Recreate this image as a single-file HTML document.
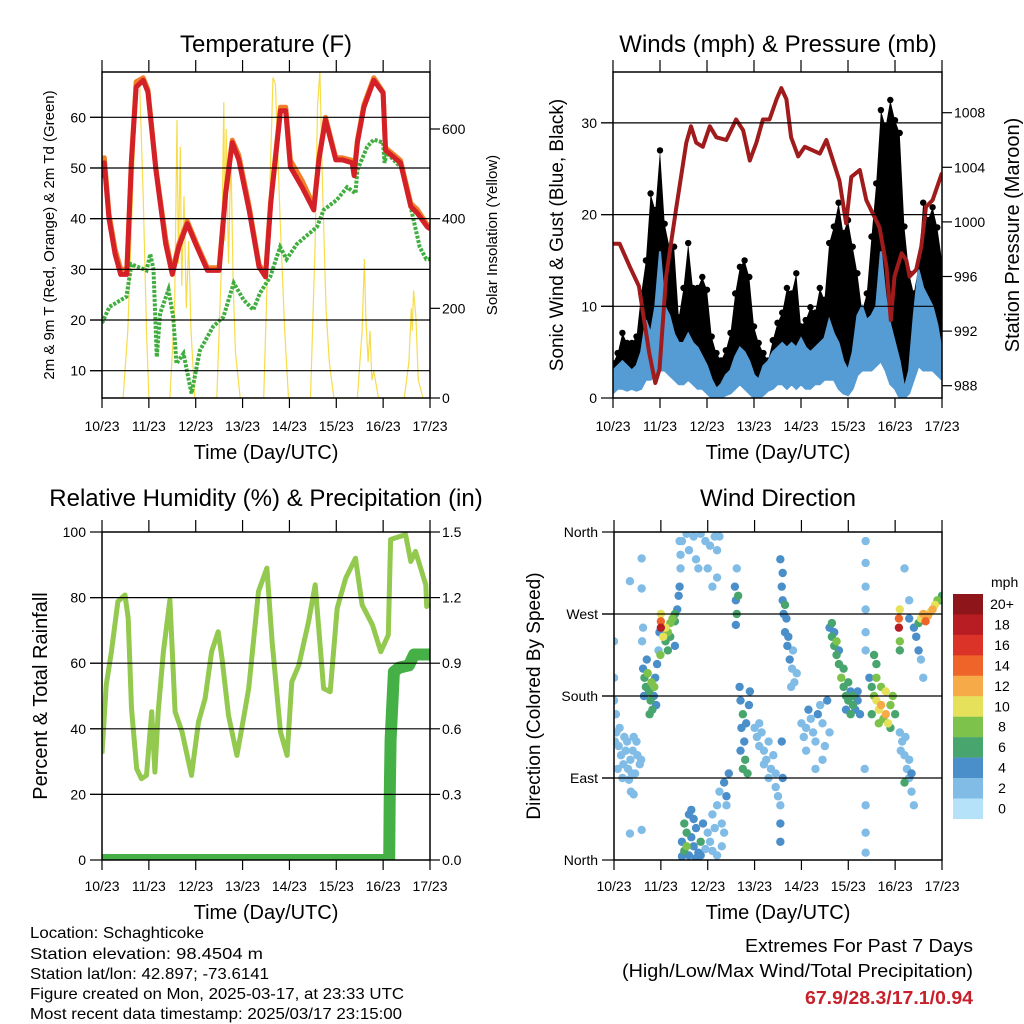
<!DOCTYPE html>
<html><head><meta charset="utf-8"><style>
html,body{margin:0;padding:0;background:#fff;}
svg{display:block;font-family:"Liberation Sans",Arial,sans-serif;}
</style></head><body>
<svg id="chart" width="1024" height="1024" viewBox="0 0 1024 1024" xmlns="http://www.w3.org/2000/svg">
<defs>
<clipPath id="c1"><rect x="102" y="72" width="328" height="326"/></clipPath>
<clipPath id="c2"><rect x="613" y="72" width="329" height="326"/></clipPath>
<clipPath id="c3"><rect x="102" y="532" width="328" height="328"/></clipPath>
<clipPath id="c4"><rect x="614" y="532" width="328" height="328"/></clipPath>
</defs>
<g id="layer"></g>
<text x="266" y="52" font-size="24" text-anchor="middle">Temperature (F)</text>
<text x="778" y="52" font-size="24" text-anchor="middle">Winds (mph) &amp; Pressure (mb)</text>
<text x="266" y="506" font-size="24" text-anchor="middle">Relative Humidity (%) &amp; Precipitation (in)</text>
<text x="778" y="506" font-size="24" text-anchor="middle">Wind Direction</text>
<text transform="translate(54,235) rotate(-90)" font-size="15" text-anchor="middle">2m &amp; 9m T (Red, Orange) &amp; 2m Td (Green)</text>
<text transform="translate(497,235) rotate(-90)" font-size="15" text-anchor="middle">Solar Insolation (Yellow)</text>
<text transform="translate(563,235) rotate(-90)" font-size="19" text-anchor="middle">Sonic Wind &amp; Gust (Blue, Black)</text>
<text transform="translate(1019,235) rotate(-90)" font-size="20" text-anchor="middle">Station Pressure (Maroon)</text>
<text transform="translate(47,696) rotate(-90)" font-size="20" text-anchor="middle">Percent &amp; Total Rainfall</text>
<text transform="translate(540,696) rotate(-90)" font-size="19" text-anchor="middle">Direction (Colored By Speed)</text>
<text x="266" y="459" font-size="20" text-anchor="middle">Time (Day/UTC)</text>
<text x="778" y="459" font-size="20" text-anchor="middle">Time (Day/UTC)</text>
<text x="266" y="919" font-size="20" text-anchor="middle">Time (Day/UTC)</text>
<text x="778" y="919" font-size="20" text-anchor="middle">Time (Day/UTC)</text>
<g font-size="16">
<text x="30" y="938" textLength="174" lengthAdjust="spacingAndGlyphs">Location: Schaghticoke</text>
<text x="30" y="959" textLength="233" lengthAdjust="spacingAndGlyphs">Station elevation: 98.4504 m</text>
<text x="30" y="979" textLength="239" lengthAdjust="spacingAndGlyphs">Station lat/lon: 42.897; -73.6141</text>
<text x="30" y="999" textLength="374" lengthAdjust="spacingAndGlyphs">Figure created on Mon, 2025-03-17, at 23:33 UTC</text>
<text x="30" y="1019" textLength="372" lengthAdjust="spacingAndGlyphs">Most recent data timestamp: 2025/03/17 23:15:00</text>
</g>
<g>
<text x="745" y="952" font-size="18" textLength="228" lengthAdjust="spacingAndGlyphs">Extremes For Past 7 Days</text>
<text x="622" y="977" font-size="18" textLength="351" lengthAdjust="spacingAndGlyphs">(High/Low/Max Wind/Total Precipitation)</text>
<text x="805" y="1004" font-size="18" font-weight="bold" fill="#c8202a" textLength="168" lengthAdjust="spacingAndGlyphs">67.9/28.3/17.1/0.94</text>
</g>
<text x="991" y="587" font-size="14">mph</text>
</svg>
<script>
// ---------- data ----------
const dayLabels = ["10/23","11/23","12/23","13/23","14/23","15/23","16/23","17/23"];
const tempTicks = [10,20,30,40,50,60];
const solarTicks = [0,200,400,600];
const windTicks = [0,10,20,30];
const presTicks = [988,992,996,1000,1004,1008];
const rhTicks = [0,20,40,60,80,100];
const precTicks = [0.0,0.3,0.6,0.9,1.2,1.5];
const precLabels = ["0.0","0.3","0.6","0.9","1.2","1.5"];
const dirTicks = [0,90,180,270,360];
const dirLabels = ["North","East","South","West","North"];
const speedLabels = ["0","2","4","6","8","10","12","14","16","18","20+"];

const tempT = [0,0.05,0.15,0.28,0.4,0.53,0.63,0.73,0.88,0.98,1.15,1.36,1.5,1.64,1.82,2.0,2.25,2.5,2.64,2.78,2.92,3.14,3.35,3.49,3.6,3.81,3.92,4.02,4.27,4.52,4.63,4.77,4.99,5.13,5.34,5.38,5.45,5.59,5.8,6.0,6.05,6.37,6.59,6.73,6.94,7.0];
const tempRed = [48,51,40,33,29,29,51.5,66,67.3,65,49.6,35,29,34.4,39,35,29.8,29.8,45,55,51.6,41.7,30.5,28.5,43,61.3,61.3,50.2,46.2,41.7,51.6,59.5,51.6,51.6,51,48.5,55,62,67.3,64.8,53.5,51,42.4,41.1,38.4,38];
const tempOrange = [50,52,41,34,30,30,52,67,67.8,65.5,50,36,29.5,35,39.5,35.5,30.3,30.3,45.5,55.5,52.5,42.5,31,29,43.5,62,62,51.5,47.5,42.5,52,60,52,52,51.5,49,55.5,62.5,67.8,65,54,51.5,43,41.8,38.8,38.5];
const dewT = [0,0.16,0.52,0.63,0.95,1.03,1.1,1.17,1.24,1.42,1.52,1.59,1.74,1.91,2.09,2.37,2.59,2.81,3.02,3.23,3.37,3.59,3.8,3.94,4.16,4.59,4.73,5.01,5.23,5.41,5.45,5.66,5.8,6.0,6.03,6.08,6.43,6.57,6.78,6.92,7.0];
const dewV = [19.4,22.6,24.6,31,29.8,33,30,12.7,21.3,26,20.6,11.4,13.4,5.5,14,18.7,20.6,27.3,24,22,25.3,28.5,34.4,32,35,38.4,41.7,43.7,46.2,45,49.6,54.2,55.6,55,51,53,49.6,43,34.4,32,32];
const solT = [0.45,0.55,0.65,0.75,0.8,0.88,0.95,1.0, 1.45,1.55,1.6,1.63,1.67,1.7,1.75,1.8,1.85,1.9,1.98, 2.45,2.55,2.6,2.62,2.65,2.7,2.75,2.8,2.85,2.95, 3.45,3.55,3.65,3.7,3.8,3.9,3.98, 4.45,4.55,4.6,4.65,4.7,4.78,4.85,4.95, 5.45,5.55,5.6,5.63,5.68,5.72,5.76,5.8,5.9, 6.45,6.55,6.6,6.62,6.65,6.7,6.75,6.85];
const solV = [0,150,450,700,710,450,150,0, 0,200,620,300,560,250,450,200,350,150,0, 0,300,660,350,600,300,550,250,100,0, 0,350,715,700,400,150,0, 0,350,650,730,500,200,80,0, 0,150,310,180,80,150,40,60,0, 0,80,200,150,240,180,40,0];

const presT = [0,0.14,0.36,0.55,0.77,0.9,0.99,1.13,1.34,1.56,1.66,1.77,1.91,2.06,2.2,2.41,2.62,2.77,2.91,3.05,3.19,3.33,3.48,3.58,3.69,3.79,3.94,4.08,4.4,4.54,4.68,4.82,4.96,5.07,5.25,5.39,5.53,5.67,5.82,5.91,5.99,6.14,6.24,6.31,6.45,6.56,6.66,6.8,7.0];
const presV = [998.4,998.4,996.7,995.3,990.4,988.2,989.2,996,1000.9,1005.8,1007,1005.8,1005.5,1007,1006.2,1006,1007.5,1006.7,1004.5,1005.8,1007.5,1007.5,1009,1009.8,1009,1006.2,1004.8,1005.5,1005,1006,1004.5,1003,999.9,1003.3,1003.8,1001.6,1000.6,999.6,996.7,992.8,996,997.7,997.2,996,996.5,998.2,1001.1,1001.6,1003.6];
// winds sampled every 0.1 day
const gustHi = [3.8,4.9,7.1,6,6,6.7,11.4,15,22.3,20.5,27,19,16.5,16.5,8.8,12,16.9,12,12,13.2,11.8,6.7,4.9,4.1,5.2,7.1,11.4,14.3,15,13.2,7.8,6,4.9,4.1,6.3,8.2,9.3,12,11.4,13.6,7.8,8.5,9.9,9.3,12,10.7,16.9,18.7,21.3,18,19.4,16.5,13.6,9.5,11.4,17.6,23.4,31.4,29.6,32.5,30.3,28.9,18.7,13.6,11.4,14.3,21.3,19.4,20.8,18.6,15];
const windHi = [3,3.5,4,3.5,3,3.5,5,8.5,7,10,16,10,9,7,6,6,7,6,5.5,4.5,3.5,2,1,1.5,2.5,3,4.5,5.5,5,4,2.5,2,3.5,4,5,5.5,6,5.5,6,5.5,6.5,5.5,5,5.5,6,6.5,8.5,7,6,4,3,5,9,10,8.5,9,10,16,11,8,6,4,1,3,9,14,12,11,10,8,5];
const windLo = [0.5,1,1,0.8,1,0.8,1,2,2,2.5,3,3,2.5,2,1.5,1.5,2,1.5,1,1,0.5,0,0,0,0.3,0.5,1,1.5,1,0.5,0,0,0.3,0.8,1,1.5,1.5,1,1.5,1,1.5,1,1,1.5,1.5,2,2,2,1,0.5,0.3,1,2.5,3,3,3,3.5,4,3,1.5,1,0,0,0.5,2,3.5,3,3,3,2.5,2];

const rhT = [0,0.09,0.2,0.34,0.49,0.56,0.63,0.74,0.84,0.95,1.06,1.13,1.2,1.31,1.45,1.56,1.71,1.91,2.06,2.2,2.34,2.48,2.56,2.7,2.88,3.02,3.13,3.34,3.52,3.63,3.81,3.95,4.05,4.2,4.41,4.55,4.73,4.87,5.02,5.2,5.41,5.55,5.77,5.95,6.11,6.16,6.48,6.59,6.69,6.91,6.93,7.0];
const rhV = [32.4,53.3,63.5,78.8,80.8,73.7,46.2,27.8,24.8,25.8,45.2,26.8,45.2,63.5,79.3,45.2,39,25.8,42.1,49.2,63.5,69.6,61.5,44.1,31.9,43.1,52.3,81.9,89,66.6,39,31.9,54.3,59.4,72.7,83.9,52.3,51.3,76.8,85.9,92,77.8,71.7,63.5,68.6,97.7,99.2,91,94.1,83.9,77.3,78.3];
const precT = [0,6.13,6.14,6.16,6.23,6.34,6.55,6.66,7.0];
const precV = [0,0,0.28,0.55,0.86,0.88,0.89,0.94,0.94];

// wind direction observations (time in days, direction deg, speed mph)
const wdT = [0.02,0.05,0.1,0.15,0.2,0.25,0.3,0.35,0.4,0.45,0.5,0.55,0.08,0.18,0.28,0.38,0.42,0.48,0.12,0.22,0.32,0.58,0.0,0.0,0.0,0.04,0.36,0.42,0.34,0.59,0.59,0.34,0.59,
 0.62,0.65,0.68,0.72,0.75,0.78,0.8,0.82,0.85,0.88,0.9,0.92,0.7,0.64,0.76,0.86,0.95,0.97,0.6,0.62,
 1.0,1.0,1.0,1.1,1.15,1.2,1.25,1.3,1.1,1.2,1.3,1.35,1.38,1.4,1.42,1.42,1.4,0.99,1.3,1.15,1.05,
 1.45,1.5,1.55,1.6,1.65,1.7,1.75,1.8,1.85,1.9,1.6,1.65,1.7,1.5,1.55,1.95,2.0,1.75,1.45,1.85,
 1.45,1.55,1.7,1.85,1.95,2.05,2.15,1.6,1.75,2.0,2.1,2.2,2.25,1.8,2.2,
 2.05,2.1,2.15,2.2,2.25,2.3,2.35,2.4,2.45,2.1,2.2,2.3,2.35,2.4,
 2.58,2.6,2.62,2.6,2.65,2.62,
 2.68,2.7,2.75,2.72,2.78,2.8,2.85,2.88,2.9,2.7,2.82,2.75,
 3.0,3.05,3.1,3.15,3.2,3.25,3.3,3.35,3.4,3.45,3.1,3.2,3.3,3.45,3.5,
 3.55,3.55,3.55,3.58,3.6,
 3.58,3.6,3.62,3.65,3.7,3.75,3.8,3.85,3.9,3.68,3.72,3.6,3.55,3.65,3.78,3.82,
 4.0,4.05,4.1,4.15,4.2,4.25,4.3,4.35,4.4,4.45,4.5,4.55,4.6,4.1,4.3,4.45,
 4.6,4.65,4.7,4.75,4.8,4.85,4.9,4.95,5.0,5.05,5.1,5.15,5.2,5.25,4.7,4.8,4.9,5.0,5.1,5.2,4.65,4.75,4.95,5.05,
 5.37,5.37,5.37,5.37,5.37,5.37,5.37,5.37,5.37,5.35,
 5.45,5.5,5.55,5.6,5.65,5.7,5.75,5.8,5.85,5.9,5.95,6.0,5.6,5.7,5.8,5.9,5.5,5.65,5.6,5.55,
 6.1,6.15,6.2,6.25,6.3,6.35,6.12,6.22,6.3,6.2,6.4,6.35,
 6.08,6.08,6.1,6.1,6.1,6.3,6.4,6.5,6.55,6.6,6.65,6.7,6.75,6.8,6.85,6.9,6.95,7.0,6.45,6.3,6.2,6.5,6.55,6.6];
const wdDir = [130,140,125,115,105,120,100,110,120,95,115,105,100,90,130,95,135,130,145,135,88,110,175,200,240,160,75,72,306,331,298,29,33,
 210,200,190,205,185,175,195,165,180,200,170,215,220,180,160,190,230,250,240,255,
 270,262,255,255,250,260,265,262,240,245,270,275,290,300,320,335,350,225,235,230,245,
 20,10,30,5,25,15,35,8,20,40,50,55,45,40,15,12,30,2,4,5,
 350,358,355,358,350,345,355,340,330,320,300,310,355,320,340,
 20,50,35,60,75,40,85,70,95,10,5,15,30,60,
 300,285,270,258,290,320,
 190,175,160,145,130,110,95,170,185,120,150,100,
 145,135,125,140,120,110,130,100,115,95,150,105,90,80,70,
 40,20,60,130,90,
 300,285,270,250,235,220,210,195,205,265,245,315,330,280,190,230,
 150,135,145,165,155,140,130,160,170,150,125,175,140,120,100,110,
 255,245,235,225,215,200,190,180,175,185,170,165,175,160,250,230,210,195,180,185,260,240,165,160,
 350,326,300,275,250,230,60,30,8,100,
 200,190,180,175,165,170,155,160,150,170,180,160,200,190,185,145,160,150,215,225,
 140,130,115,100,90,75,120,135,110,85,60,95,
 265,255,275,240,230,265,255,260,265,270,262,268,272,275,280,285,285,290,245,285,320,230,220,200];
const wdSpd = [1,1,2,1,2,1,2,1,2,1,2,1,1,1,2,2,1,2,1,1,1,2,1,1,1,1,1,1,1,1,1,2,1,
 4,5,6,7,6,5,7,6,4,3,4,4,3,4,6,7,2,3,2,2,
 10,14,18,10,8,7,8,6,6,5,5,4,4,3,2,2,2,8,3,5,9,
 4,5,6,4,3,4,3,4,5,4,4,3,3,6,7,2,2,4,3,4,
 2,2,2,2,1,1,1,2,2,1,1,1,1,1,2,
 1,1,1,2,2,1,3,3,4,1,1,1,1,2,
 3,4,5,3,6,2,
 4,4,5,4,4,5,6,4,4,3,4,6,
 2,2,2,2,2,1,2,2,2,2,1,2,2,1,2,
 3,3,2,3,3,
 4,4,3,4,4,3,2,2,2,4,4,3,3,6,2,2,
 2,2,2,3,2,2,2,3,2,2,2,3,2,2,1,1,
 4,5,6,5,6,7,6,5,6,4,5,4,3,4,3,4,6,5,6,4,6,7,4,5,
 1,2,2,2,2,1,1,2,1,1,
 3,6,8,10,9,11,8,12,10,8,7,6,7,8,9,6,5,7,6,5,
 2,2,2,2,1,1,2,1,2,6,1,3,
 14,18,10,8,6,3,4,6,10,12,14,12,10,11,9,8,6,5,4,2,1,3,2,2];
const speedColors = ['#b5e2f8','#80bce6','#4a8fc9','#48a56e','#7dc24b','#e6e15a','#f6ab48','#ef6429','#dc3328','#b81d23','#8e1519'];

// ---------- helpers ----------
const NS = "http://www.w3.org/2000/svg";
const layer = document.getElementById('layer');
function mk(tag, attrs, parent) {
  const e = document.createElementNS(NS, tag);
  for (const k in attrs) e.setAttribute(k, attrs[k]);
  (parent || layer).appendChild(e);
  return e;
}
function lin(d0, d1, r0, r1) { return v => r0 + (v - d0) * (r1 - r0) / (d1 - d0); }
function pts(xs, ys, fx, fy) { return xs.map((t, i) => fx(t).toFixed(1) + ',' + fy(ys[i]).toFixed(1)).join(' '); }

const P = {
  temp: {x0:102,x1:430,y0:72,y1:398},
  wind: {x0:613,x1:942,y0:72,y1:398},
  rh: {x0:102,x1:430,y0:532,y1:860},
  dir: {x0:614,x1:942,y0:532,y1:860}
};
function tx(p) { return lin(0, 7, p.x0, p.x1); }

const xT = tx(P.temp), xW = tx(P.wind), xR = tx(P.rh), xD = tx(P.dir);
const yTemp = lin(10, 60, 370.7, 117.3);
const ySol = lin(0, 600, 398, 129);
const yWind = lin(0, 30, 398, 122.9);
const yPres = lin(988, 1008, 385.7, 112.7);
const yRH = lin(0, 100, 860, 532);
const yPrec = lin(0, 1.5, 860, 532);
const yDir = lin(0, 360, 860, 532);

function frame(p, name, xf, yGrid, yf, leftTicks, leftLabels, leftName, rightTicks, rightLabels, yr, rightName, tickLabelY) {
  const g = mk('g', {});
  
  
  yGrid.forEach(v => {
    const l = mk('line', {x1:p.x0-12, x2:p.x1, y1:yf(v), y2:yf(v), stroke:'#000', 'stroke-width':1.2}, g);
    
    
  });
  leftTicks.forEach((v, i) => {
    mk('line', {x1:p.x0-12, x2:p.x0, y1:yf(v), y2:yf(v), stroke:'#000', 'stroke-width':1.2}, g);
    const t = mk('text', {x:p.x0-16, y:yf(v)+5, 'font-size':14, 'text-anchor':'end'}, g);
    t.textContent = leftLabels[i];
    
    
  });
  rightTicks.forEach((v, i) => {
    mk('line', {x1:p.x1, x2:p.x1+10, y1:yr(v), y2:yr(v), stroke:'#000', 'stroke-width':1.2}, g);
    const t = mk('text', {x:p.x1+12, y:yr(v)+5, 'font-size':14}, g);
    t.textContent = rightLabels[i];
    
    
  });
  dayLabels.forEach((d, i) => {
    const x = xf(i);
    mk('line', {x1:x, x2:x, y1:p.y0-12, y2:p.y0, stroke:'#000', 'stroke-width':1.2}, g);
    mk('line', {x1:x, x2:x, y1:p.y1, y2:p.y1+10, stroke:'#000', 'stroke-width':1.2}, g);
    const t = mk('text', {x:x, y:tickLabelY, 'font-size':14, 'text-anchor':'middle'}, g);
    t.textContent = d;
    
    
  });
  const b = mk('rect', {x:p.x0, y:p.y0, width:p.x1-p.x0, height:p.y1-p.y0, fill:'none', stroke:'#000', 'stroke-width':1.5}, g);
  
  
}

// ---------- Temperature panel ----------
const g1 = mk('g', {'clip-path':'url(#c1)'});


const sol = mk('polyline', {points: pts(solT, solV, xT, ySol), fill:'none', stroke:'#f7dc4a', 'stroke-width':1.2}, g1);


const dew = mk('polyline', {points: pts(dewT, dewV, xT, yTemp), fill:'none', stroke:'#3fae3f', 'stroke-width':4, 'stroke-dasharray':'3 1.5'}, g1);


const or = mk('polyline', {points: pts(tempT, tempOrange, xT, yTemp), fill:'none', stroke:'#f07f2a', 'stroke-width':5, 'stroke-linejoin':'round'}, g1);


const rd = mk('polyline', {points: pts(tempT, tempRed, xT, yTemp), fill:'none', stroke:'#d42027', 'stroke-width':5, 'stroke-linejoin':'round'}, g1);


frame(P.temp, 'temperature', xT, tempTicks, yTemp, tempTicks, tempTicks.map(String), 'temp', solarTicks, solarTicks.map(String), ySol, 'solar', 431);

// ---------- Winds panel ----------
const g2 = mk('g', {'clip-path':'url(#c2)'});


const wt = gustHi.map((v, i) => i / 10);
const gustPoly = pts(wt, gustHi, xW, yWind) + ' ' + pts(wt.slice().reverse(), windLo.slice().reverse(), xW, yWind);
const gp = mk('polygon', {points: gustPoly, fill:'#000'}, g2);


gustHi.forEach((v, i) => {
  const c = mk('circle', {cx: xW(wt[i]), cy: yWind(v), r: 3.2, fill:'#000'}, g2);
  
  
});
const windPoly = pts(wt, windHi, xW, yWind) + ' ' + pts(wt.slice().reverse(), windLo.slice().reverse(), xW, yWind);
const wp = mk('polygon', {points: windPoly, fill:'#559bd4', stroke:'#559bd4', 'stroke-width':2}, g2);


const pr = mk('polyline', {points: pts(presT, presV, xW, yPres), fill:'none', stroke:'#a01b1b', 'stroke-width':4, 'stroke-linejoin':'round'}, g2);


frame(P.wind, 'winds', xW, [10,20,30], yWind, windTicks, windTicks.map(String), 'wind', presTicks, presTicks.map(String), yPres, 'pressure', 431);

// ---------- RH panel ----------
const g3 = mk('g', {'clip-path':'url(#c3)'});


const rh = mk('polyline', {points: pts(rhT, rhV, xR, yRH), fill:'none', stroke:'#92c94e', 'stroke-width':5, 'stroke-linejoin':'round'}, g3);


const pc = mk('polyline', {points: pts(precT, precV, xR, yPrec), fill:'none', stroke:'#45b045', 'stroke-width':12, 'stroke-linejoin':'round', 'stroke-linecap':'round'}, g3);


frame(P.rh, 'humidity', xR, [20,40,60,80], yRH, rhTicks, rhTicks.map(String), 'rh', precTicks, precLabels, yPrec, 'precip', 891);

// ---------- Wind direction panel ----------
const g4 = mk('g', {'clip-path':'url(#c4)'});


const order = wdSpd.map((s, i) => i).sort((a, b) => wdSpd[a] - wdSpd[b]);
order.forEach(i => {
  const ci = Math.min(10, Math.round(wdSpd[i] / 2));
  const c = mk('circle', {cx: xD(wdT[i]), cy: yDir(wdDir[i]), r: 4.2, fill: speedColors[ci]}, g4);
  
  
});
frame(P.dir, 'direction', xD, [90,180,270], yDir, dirTicks, dirLabels, 'direction', [], [], yDir, 'none', 891);

// colorbar
const cb = mk('g', {});


speedColors.forEach((col, i) => {
  const k = 10 - i;
  const y = 594 + i * 20.45;
  const r = mk('rect', {x:953, y:y, width:30, height:20.6, fill: speedColors[k]}, cb);
  
  
  const t = mk('text', {x:1002, y:y+15, 'font-size':14, 'text-anchor':'middle'}, cb);
  t.textContent = speedLabels[k];
  
  
});
</script>
</body></html>
